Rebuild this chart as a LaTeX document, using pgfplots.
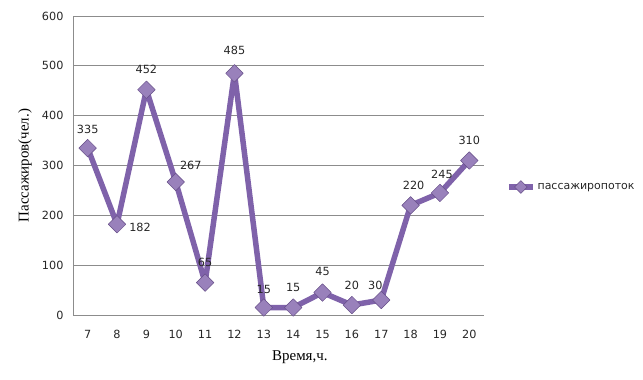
\documentclass[border=0pt]{standalone}
\usepackage{pgfplots}
\pgfplotsset{compat=1.18}
\usepackage{fontspec}
\setmainfont{DejaVu Sans}
\newfontfamily\serifcyr{Liberation Serif}
\definecolor{pur}{HTML}{7F62AA}
\definecolor{gridc}{HTML}{8C8C8C}
\pgfplotstableread{
x y dx dy
7 335 0 19
8 182 23 -3
9 452 0 20
10 267 15 17
11 65 0 20
12 485 0 23
13 15 0 18
14 15 0 20
15 45 0 21
16 20 0 20
17 30 -6 15
18 220 3 20
19 245 2 19
20 310 0 20
}\datatable
\begin{document}
\begin{tikzpicture}
\useasboundingbox (0,0) rectangle (643bp,380bp);
\begin{axis}[at={(73bp,65bp)}, anchor=south west, scale only axis,
  width=411bp, height=299bp,
  xmin=6.5, xmax=20.5, ymin=0, ymax=600,
  xtick={7,...,20}, ytick={0,100,...,600},
  ymajorgrids, major grid style={gridc, line width=0.8bp},
  axis x line*=bottom, axis y line*=left,
  axis line style={gridc, line width=0.8bp, -},
  major tick length=0pt,
  ticklabel style={font=\fontsize{11.3}{13}\selectfont, text=black!85},
  xticklabel style={yshift=-12bp},
  yticklabel style={xshift=-6bp},
  /pgf/number format/assume math mode=true,
  xlabel={\serifcyr Время,ч.},
  ylabel={\serifcyr Пассажиров(чел.)},
  xlabel style={at={(axis description cs:0.552,-0.14)}, anchor=center, font=\fontsize{15}{17}\selectfont},
  ylabel style={at={(axis description cs:-0.117,0.5)}, anchor=center, font=\fontsize{15}{17}\selectfont},
  legend style={at={(1.046,0.428)}, anchor=west, draw=none, fill=none,
    font=\fontsize{11}{13}\selectfont, text=black!85},
  legend image code/.code={\draw[mark repeat=2,mark phase=2,#1, mark size=4.5bp] plot coordinates {(0bp,0bp) (12bp,0bp) (24bp,0bp)};},
]
\addplot[pur, line width=5.5bp, line join=round, mark=square*, mark size=6.2bp,
  mark options={rotate=45, fill=pur!80!white, draw=pur!80!black, line width=0.5bp},
  visualization depends on={\thisrow{dx} \as \dx},
  visualization depends on={\thisrow{dy} \as \dy},
  nodes near coords, point meta=explicit,
  nodes near coords style={anchor=center, xshift=\dx bp, yshift=\dy bp,
    font=\fontsize{11.3}{13}\selectfont, text=black!85,
    /pgf/number format/assume math mode=true},
] table[x=x, y=y, meta=y] {\datatable};
\addlegendentry{пассажиропоток}
\end{axis}
\end{tikzpicture}
\end{document}
